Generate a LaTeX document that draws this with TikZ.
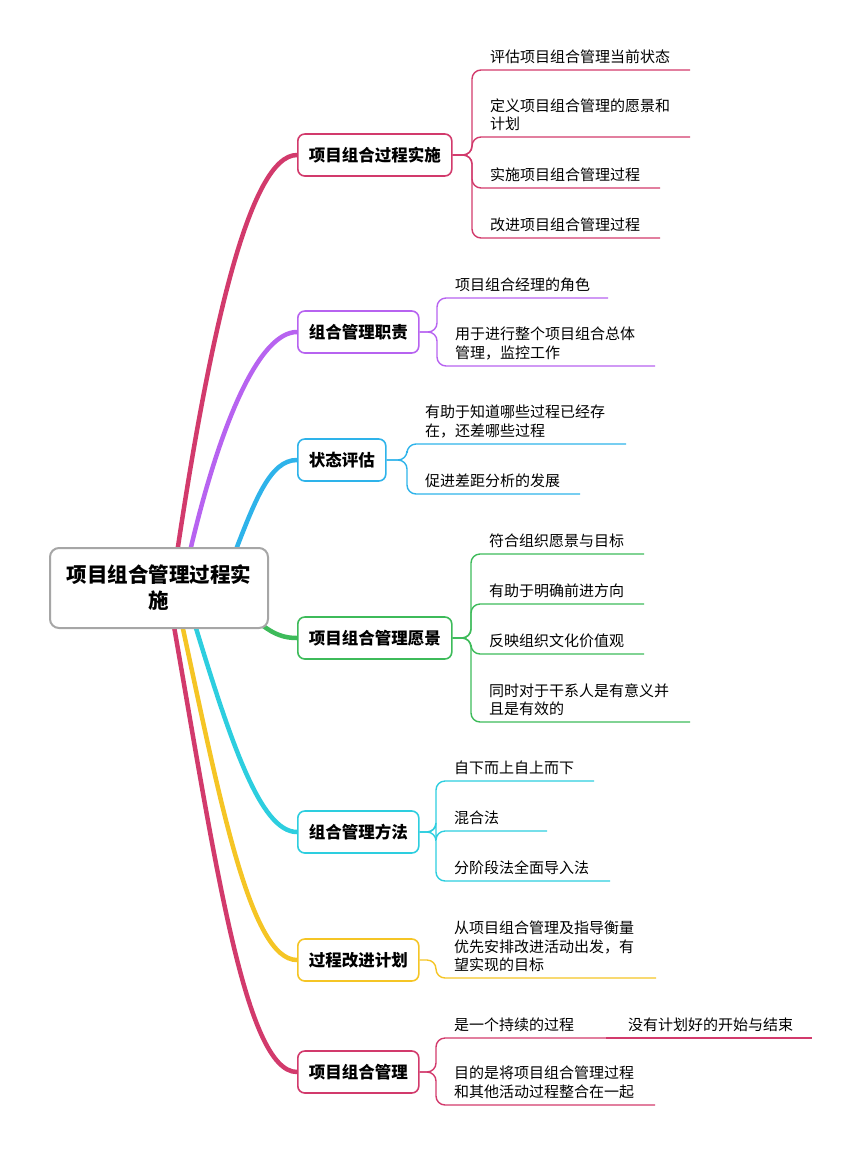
\documentclass[tikz,border=0pt]{standalone}
\usepackage{fontspec}
\newfontfamily\cjk{Noto Sans CJK SC}
\definecolor{cA}{HTML}{D23A6C}
\definecolor{cB}{HTML}{B763F0}
\definecolor{cC}{HTML}{2EB3EA}
\definecolor{cD}{HTML}{3DBB5A}
\definecolor{cE}{HTML}{2DCEDF}
\definecolor{cF}{HTML}{F5C525}
\tikzset{
 topic/.style={draw=#1,line width=1.6pt,rounded corners=7pt,fill=white,font=\cjk\fontsize{16.5}{18}\selectfont\bfseries,inner xsep=11pt,inner ysep=0pt,minimum height=42pt,anchor=west},
 leaftext/.style={font=\cjk\fontsize{15}{18.5}\selectfont,anchor=south west,align=left,inner sep=0pt},
 branch/.style={draw=#1,line width=1.4pt,rounded corners=9pt},
 trunk/.style={draw=#1,line width=4.5pt,line cap=round}
}
\newcommand\leafx[7]{% name color xs xe y text parent
 \coordinate (#1s) at (#3,#5); \coordinate (#1e) at (#4,#5);
 \draw[branch=#2] (#7.east) -| (#1s) -- (#1e);
 \node[leaftext] (#1t) at ([xshift=18pt,yshift=6pt]#1s) {#6};}
\begin{document}
\begin{tikzpicture}[x=1pt,y=-1pt]
\useasboundingbox (0,0) rectangle (862,1176);
% trunks
\draw[trunk=cA] (176,560) .. controls (210,330) and (250,155) .. (297,155);
\draw[trunk=cB] (188,560) .. controls (220,420) and (260,332) .. (297,332);
\draw[trunk=cC] (232,560) .. controls (255,500) and (270,460) .. (297,460);
\draw[trunk=cD] (262,625) .. controls (275,635) and (285,638) .. (297,638);
\draw[trunk=cE] (192,615) .. controls (230,740) and (260,832) .. (297,832);
\draw[trunk=cF] (180,615) .. controls (220,800) and (250,960) .. (297,960);
\draw[trunk=cA] (172,615) .. controls (215,860) and (245,1072) .. (297,1072);
\node[draw=gray!70,line width=2pt,rounded corners=9pt,fill=white,minimum width=218pt,minimum height=80pt,align=center,font=\cjk\fontsize{20.5}{26}\selectfont\bfseries] (root) at (159,588) {项目组合管理过程实\\施};
% topics
\node[topic=cA] (t1) at (297,155) {项目组合过程实施};
\node[topic=cB] (t2) at (297,332) {组合管理职责};
\node[topic=cC] (t3) at (297,460) {状态评估};
\node[topic=cD] (t4) at (297,638) {项目组合管理愿景};
\node[topic=cE] (t5) at (297,832) {组合管理方法};
\node[topic=cF] (t6) at (297,960) {过程改进计划};
\node[topic=cA] (t7) at (297,1072) {项目组合管理};
% leaves
\leafx{a1}{cA}{472}{690}{70}{评估项目组合管理当前状态}{t1}
\leafx{a2}{cA}{472}{690}{137}{定义项目组合管理的愿景和\\计划}{t1}
\leafx{a3}{cA}{472}{660}{188}{实施项目组合管理过程}{t1}
\leafx{a4}{cA}{472}{660}{238}{改进项目组合管理过程}{t1}
\leafx{b1}{cB}{437}{608}{298}{项目组合经理的角色}{t2}
\leafx{b2}{cB}{437}{655}{366}{用于进行整个项目组合总体\\管理，监控工作}{t2}
\leafx{c1}{cC}{407}{626}{444}{有助于知道哪些过程已经存\\在，还差哪些过程}{t3}
\leafx{c2}{cC}{407}{580}{494}{促进差距分析的发展}{t3}
\leafx{d1}{cD}{471}{644}{554}{符合组织愿景与目标}{t4}
\leafx{d2}{cD}{471}{644}{604}{有助于明确前进方向}{t4}
\leafx{d3}{cD}{471}{644}{654}{反映组织文化价值观}{t4}
\leafx{d4}{cD}{471}{690}{722}{同时对于干系人是有意义并\\且是有效的}{t4}
\leafx{e1}{cE}{436}{594}{781}{自下而上自上而下}{t5}
\leafx{e2}{cE}{436}{547}{831}{混合法}{t5}
\leafx{e3}{cE}{436}{610}{881}{分阶段法全面导入法}{t5}
\leafx{f1}{cF}{436}{656}{978}{从项目组合管理及指导衡量\\优先安排改进活动出发，有\\望实现的目标}{t6}
\leafx{g1}{cA}{436}{606}{1038}{是一个持续的过程}{t7}
\leafx{g2}{cA}{436}{655}{1105}{目的是将项目组合管理过程\\和其他活动过程整合在一起}{t7}
\coordinate (g3e) at (812,1038);
\draw[draw=cA,line width=1.4pt] (g1e) -- (g3e);
\node[leaftext] (g3t) at ([xshift=22pt,yshift=6pt]g1e) {没有计划好的开始与结束};
\end{tikzpicture}
\end{document}
